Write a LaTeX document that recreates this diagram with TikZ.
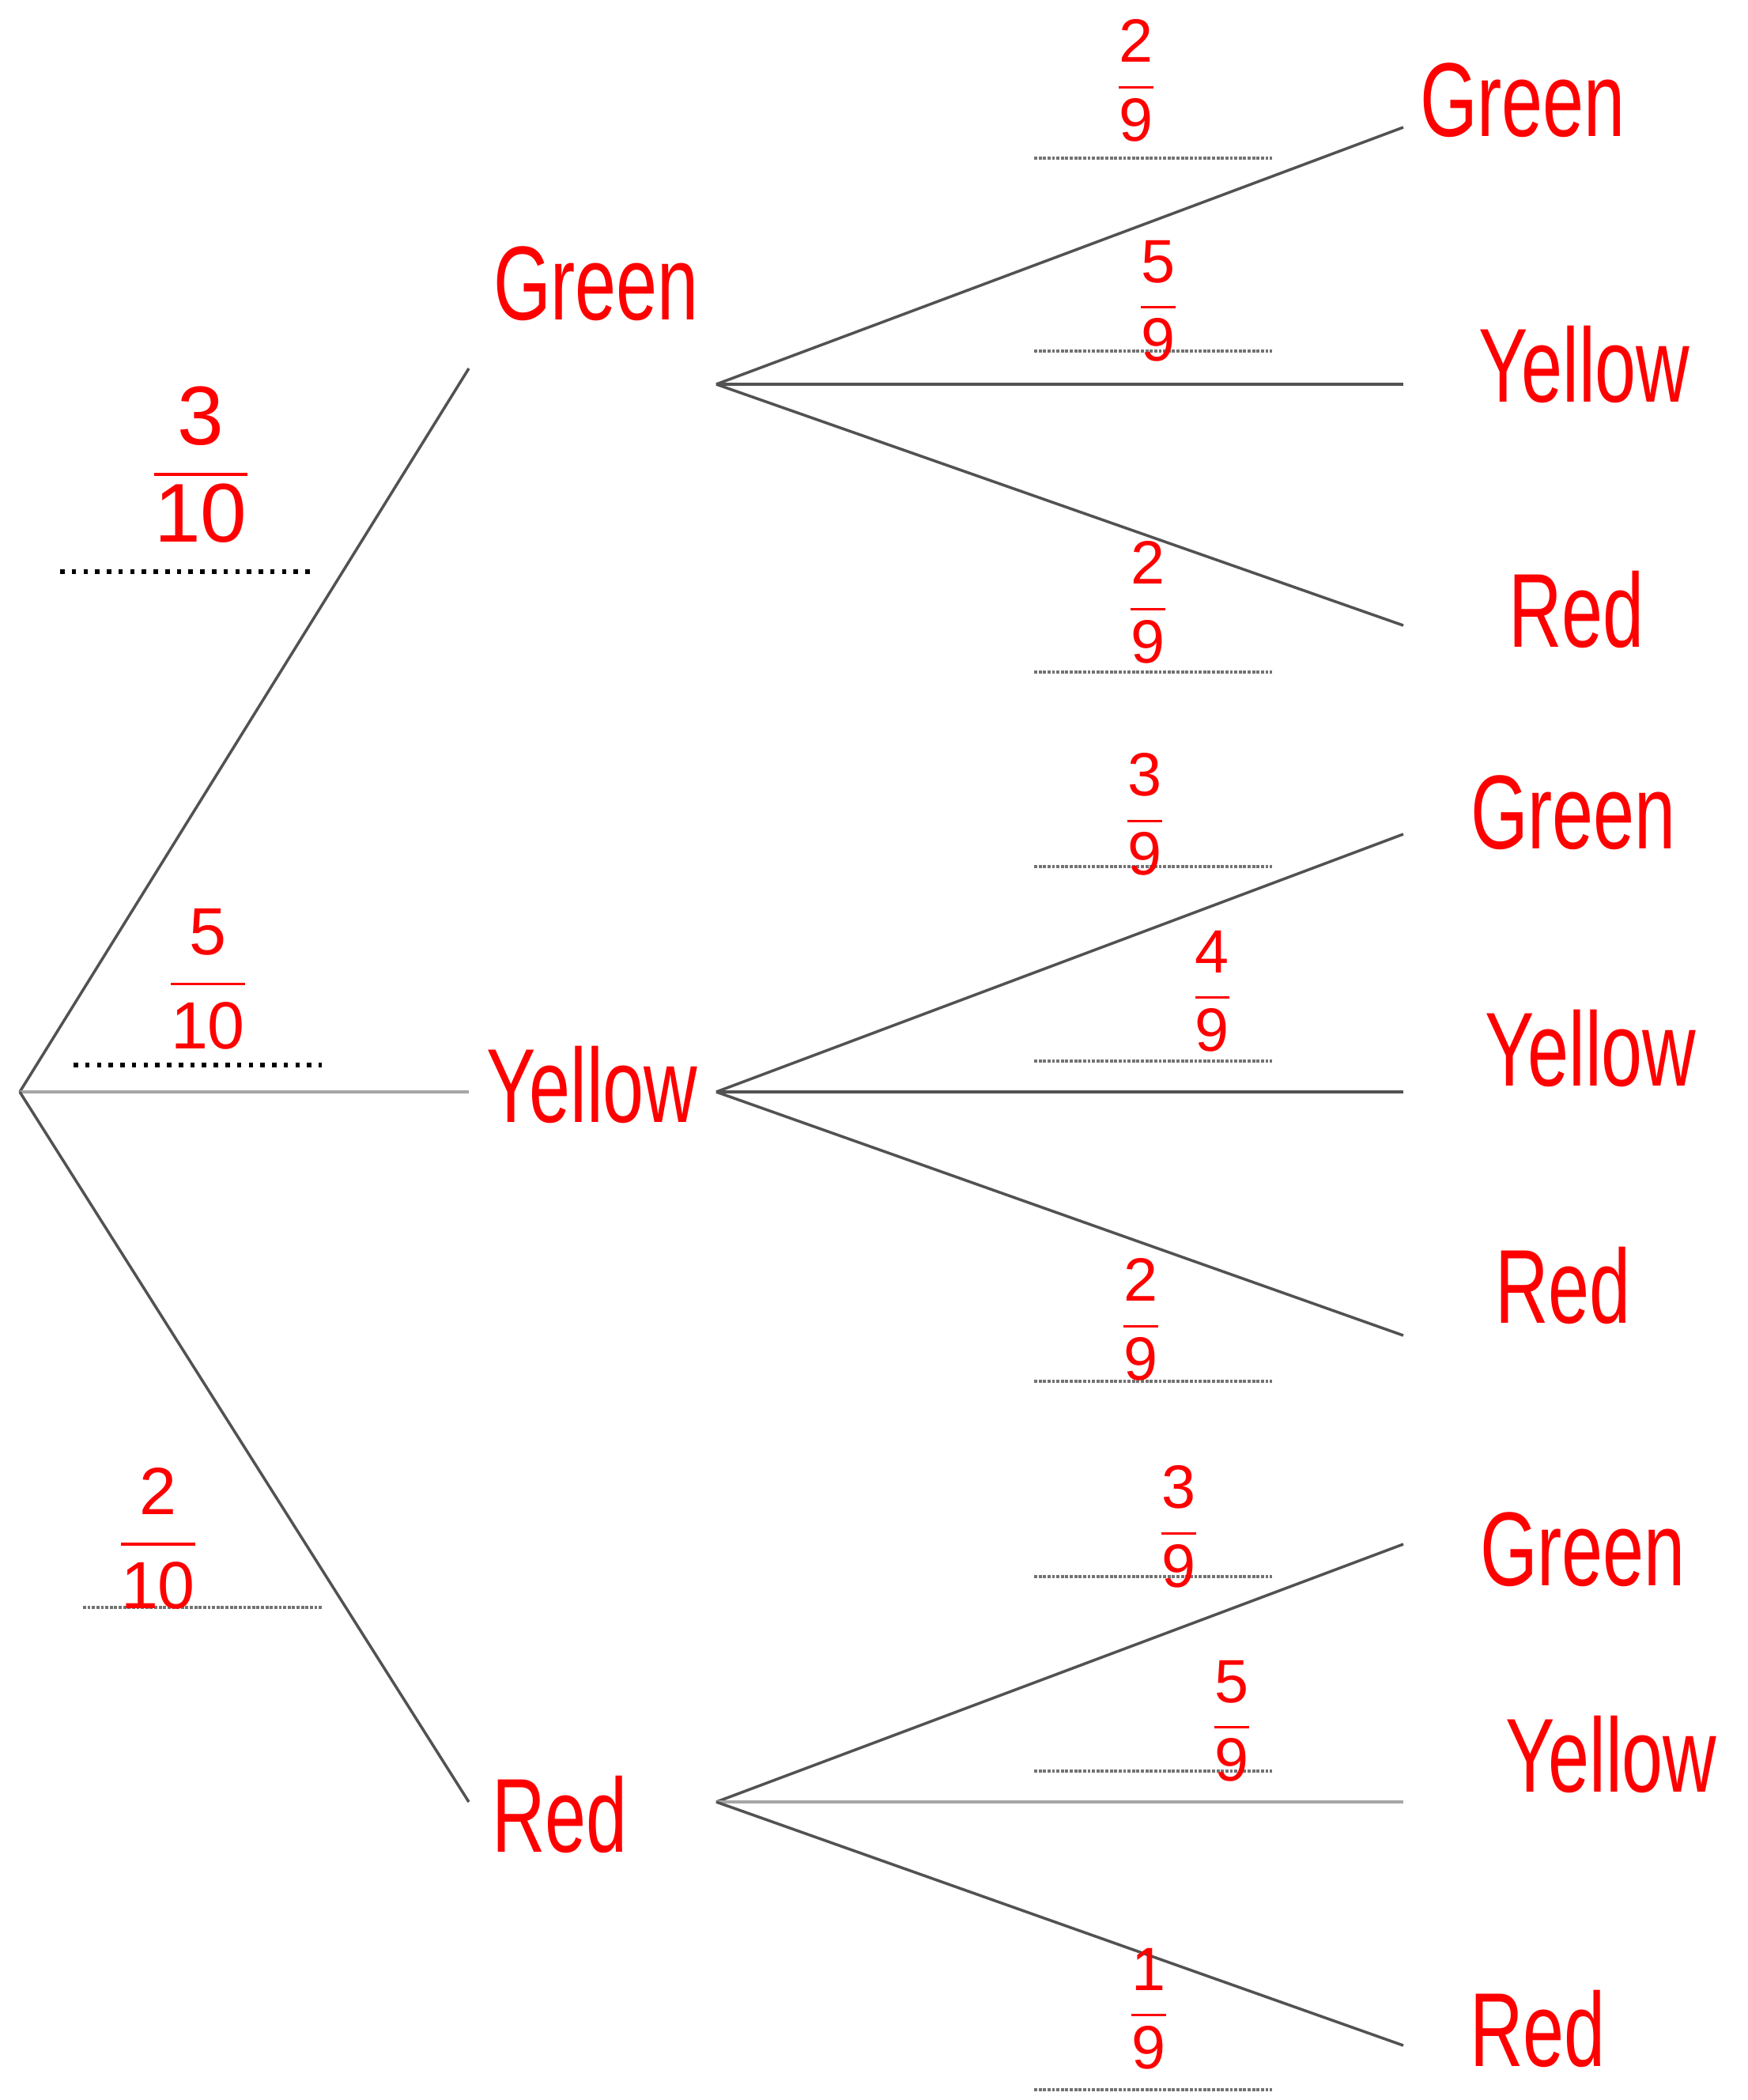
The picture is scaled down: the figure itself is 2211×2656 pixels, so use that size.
\documentclass[tikz,border=0pt]{standalone}
\usepackage{fontspec}
\usepackage{amsmath}
\usepackage{graphicx}
\setmainfont{Liberation Sans}
% stacked probability written above a blank
\newcommand\prob[2]{$\dfrac{\text{#1}}{\text{#2}}$}
% tall, narrow lettering for the outcomes
\newcommand\outcome[1]{\scalebox{0.95}[1.35]{#1}}
\begin{document}
\begin{tikzpicture}[x=0.01cm,y=-0.01cm,
  branch/.style={draw=black!68, line width=1pt},
  paleline/.style={draw=black!35, line width=1.4pt},
  blank/.style={draw=black!55, line width=1.3pt, dash pattern=on 1.1pt off 0.5pt},
  blankdark/.style={draw=black, line width=1.5pt, dash pattern=on 1.6pt off 2.6pt},
  word/.style={text=red, font=\fontsize{28}{34}\selectfont, inner sep=0pt},
  firstp/.style={text=red, font=\fontsize{30}{36}\selectfont, inner sep=0pt},
  firstsmall/.style={text=red, font=\fontsize{24}{29}\selectfont, inner sep=0pt},
  secondp/.style={text=red, font=\fontsize{22}{26}\selectfont, inner sep=0pt}]
\useasboundingbox (0,0) rectangle (2211,2656);

% branching points
\coordinate (root) at (25,1381);
\coordinate (aG) at (593,466);
\coordinate (aY) at (593,1381);
\coordinate (aR) at (593,2279);
\coordinate (bG) at (906,486);
\coordinate (bY) at (906,1381);
\coordinate (bR) at (906,2279);
\coordinate (gG) at (1775,161);
\coordinate (gY) at (1775,486);
\coordinate (gR) at (1775,791);
\coordinate (yG) at (1775,1055);
\coordinate (yY) at (1775,1381);
\coordinate (yR) at (1775,1689);
\coordinate (rG) at (1775,1953);
\coordinate (rY) at (1775,2279);
\coordinate (rR) at (1775,2587);

% first pick
\draw[branch] (root) -- (aG);
\draw[paleline] (root) -- (aY);
\draw[branch] (root) -- (aR);

% second pick
\draw[branch] (bG) -- (gG);
\draw[branch] (bG) -- (gY);
\draw[branch] (bG) -- (gR);
\draw[branch] (bY) -- (yG);
\draw[branch] (bY) -- (yY);
\draw[branch] (bY) -- (yR);
\draw[branch] (bR) -- (rG);
\draw[paleline] (bR) -- (rY);
\draw[branch] (bR) -- (rR);

% answer blanks
\draw[blankdark] (76,723) -- (393,723);
\draw[blankdark] (93,1347) -- (407,1347);
\draw[blank] (105,2033) -- (407,2033);
\foreach \yy in {200,444,850,1096,1342,1747,1994,2240,2643}
  \draw[blank] (1308,\yy) -- (1609,\yy);

% outcome labels
\node[word] (lG) at (754,359) {\outcome{Green}};
\node[word] (lY) at (749,1372) {\outcome{Yellow}};
\node[word] (lR) at (708,2295) {\outcome{Red}};
\node[word] (tGG) at (1926,127) {\outcome{Green}};
\node[word] (tGY) at (2004,461) {\outcome{Yellow}};
\node[word] (tGR) at (1994,771) {\outcome{Red}};
\node[word] (tYG) at (1990,1028) {\outcome{Green}};
\node[word] (tYY) at (2012,1326) {\outcome{Yellow}};
\node[word] (tYR) at (1977,1626) {\outcome{Red}};
\node[word] (tRG) at (2002,1960) {\outcome{Green}};
\node[word] (tRY) at (2038,2219) {\outcome{Yellow}};
\node[word] (tRR) at (1945,2566) {\outcome{Red}};

% probabilities
\node[firstp] (p1) at (254,588) {\prob{3}{10}};
\node[firstsmall] (p2) at (263,1238) {\prob{5}{10}};
\node[firstsmall] (p3) at (200,1946) {\prob{2}{10}};
\node[secondp] (q1) at (1437,102) {\prob{2}{9}};
\node[secondp] (q2) at (1465,381) {\prob{5}{9}};
\node[secondp] (q3) at (1452,762) {\prob{2}{9}};
\node[secondp] (q4) at (1448,1030) {\prob{3}{9}};
\node[secondp] (q5) at (1533,1254) {\prob{4}{9}};
\node[secondp] (q6) at (1443,1669) {\prob{2}{9}};
\node[secondp] (q7) at (1491,1931) {\prob{3}{9}};
\node[secondp] (q8) at (1558,2177) {\prob{5}{9}};
\node[secondp] (q9) at (1453,2541) {\prob{1}{9}};
\end{tikzpicture}
\end{document}
